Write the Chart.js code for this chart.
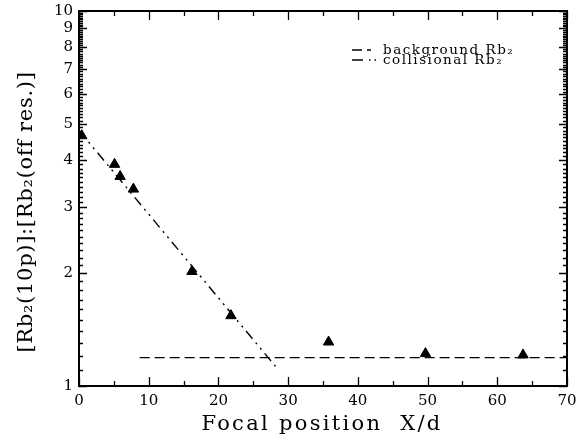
<!DOCTYPE html>
<html>
<head>
<meta charset="utf-8">
<script src="https://cdn.jsdelivr.net/npm/chart.js@4.4.1/dist/chart.umd.min.js"></script>
<style>
  html, body { margin: 0; padding: 0; background: #fff; }
</style>
</head>
<body>
<canvas id="chart" width="577" height="439"></canvas>
<script>
// measured points (triangles)
const focalX = [0.4, 5.1, 5.9, 7.8, 16.2, 21.8, 35.8, 49.7, 63.7];
const ratioY = [4.65, 3.9, 3.62, 3.35, 2.02, 1.54, 1.31, 1.22, 1.21];

// fitted lines
const backgroundX = [8.7, 70];
const backgroundY = [1.19, 1.19];
const collisionalX = [0, 28.5];
const collisionalY = [4.8, 1.11];

// axis ticks
const xTicks = [0, 10, 20, 30, 40, 50, 60, 70];
const xMinor = [5, 15, 25, 35, 45, 55, 65];
const yTicks = [1, 2, 3, 4, 5, 6, 7, 8, 9, 10];
const yMinor = [];
for (let d = 1; d < 10; d++) {
  for (let k = 1; k < 10; k++) yMinor.push(d + k / 10);
}

const legendItems = ['background Rb\u2082', 'collisional Rb\u2082'];
const xTitle = 'Focal position  X/d';
const yTitle = '[Rb\u2082(10p)]:[Rb\u2082(off res.)]';

const serif = 'DejaVu Serif';

function toPoints(xs, ys) {
  return xs.map((x, i) => ({ x: x, y: ys[i] }));
}

// frame, inward ticks, axis titles and the legend
const frameTicks = {
  id: 'frameTicks',
  afterDatasetsDraw(chart) {
    const ctx = chart.ctx;
    const a = chart.chartArea;
    const x = chart.scales.x;
    const y = chart.scales.y;
    ctx.save();
    ctx.strokeStyle = '#000';
    ctx.lineWidth = 1.3;
    ctx.setLineDash([]);
    ctx.beginPath();
    xTicks.forEach(v => {
      const px = Math.round(x.getPixelForValue(v)) + 0.5;
      ctx.moveTo(px, a.bottom); ctx.lineTo(px, a.bottom - 9);
      ctx.moveTo(px, a.top); ctx.lineTo(px, a.top + 9);
    });
    xMinor.forEach(v => {
      const px = Math.round(x.getPixelForValue(v)) + 0.5;
      ctx.moveTo(px, a.bottom); ctx.lineTo(px, a.bottom - 5);
      ctx.moveTo(px, a.top); ctx.lineTo(px, a.top + 5);
    });
    yTicks.forEach(v => {
      const py = Math.round(y.getPixelForValue(v)) + 0.5;
      ctx.moveTo(a.left, py); ctx.lineTo(a.left + 8, py);
      ctx.moveTo(a.right, py); ctx.lineTo(a.right - 8, py);
    });
    yMinor.forEach(v => {
      const py = Math.round(y.getPixelForValue(v)) + 0.5;
      ctx.moveTo(a.left, py); ctx.lineTo(a.left + 4, py);
      ctx.moveTo(a.right, py); ctx.lineTo(a.right - 4, py);
    });
    ctx.stroke();

    ctx.lineWidth = 2;
    ctx.strokeRect(a.left, a.top, a.right - a.left, a.bottom - a.top);

    // legend
    const lx = 352;
    const ly = a.top + 39;
    ctx.lineWidth = 1.4;
    ctx.beginPath();
    ctx.setLineDash([10, 5, 4, 100]);
    ctx.moveTo(lx, ly); ctx.lineTo(lx + 20, ly);
    ctx.stroke();
    ctx.beginPath();
    ctx.setLineDash([11, 6, 1.5, 4, 1.5, 100]);
    ctx.moveTo(lx, ly + 10); ctx.lineTo(lx + 26, ly + 10);
    ctx.stroke();
    ctx.setLineDash([]);
    ctx.fillStyle = '#000';
    ctx.font = '13.5px "' + serif + '"';
    ctx.letterSpacing = '1.5px';
    ctx.textBaseline = 'middle';
    legendItems.forEach((t, i) => {
      ctx.fillText(t, lx + 31, ly + i * 10);
    });

    // axis titles
    ctx.font = '21px "' + serif + '"';
    ctx.textAlign = 'center';
    ctx.letterSpacing = '2.3px';
    ctx.fillText(xTitle, 322, 425);
    ctx.letterSpacing = '0.7px';
    ctx.translate(27, 212);
    ctx.rotate(-Math.PI / 2);
    ctx.fillText(yTitle, 0, 0);
    ctx.restore();
  }
};

const ctx = document.getElementById('chart').getContext('2d');
const chart = new Chart(ctx, {
  type: 'scatter',
  data: {
    datasets: [
      {
        label: 'collisional Rb2',
        data: toPoints(collisionalX, collisionalY),
        showLine: true,
        borderColor: '#000',
        borderWidth: 1.4,
        borderDash: [10, 5, 2, 5, 2, 5],
        pointRadius: 0
      },
      {
        label: 'background Rb2',
        data: toPoints(backgroundX, backgroundY),
        showLine: true,
        borderColor: '#000',
        borderWidth: 1.4,
        borderDash: [10, 5],
        pointRadius: 0
      },
      {
        label: 'data',
        data: toPoints(focalX, ratioY),
        showLine: false,
        pointStyle: 'triangle',
        pointRadius: 6,
        backgroundColor: '#000',
        borderColor: '#000',
        borderWidth: 1
      }
    ]
  },
  options: {
    responsive: false,
    animation: false,
    devicePixelRatio: 1,
    layout: { padding: { top: 11, right: 10, left: 0, bottom: 0 } },
    plugins: {
      legend: { display: false },
      tooltip: { enabled: false }
    },
    scales: {
      x: {
        type: 'linear',
        min: 0,
        max: 70,
        afterBuildTicks: s => { s.ticks = xTicks.map(v => ({ value: v })); },
        afterFit: s => { s.height = 53; s.paddingLeft = 0; s.paddingRight = 0; },
        grid: { display: false, drawTicks: false },
        border: { display: false },
        ticks: { color: '#000', padding: 6, font: { family: serif, size: 15 } }
      },
      y: {
        type: 'logarithmic',
        min: 1,
        max: 10,
        afterBuildTicks: s => { s.ticks = yTicks.map(v => ({ value: v })); },
        afterFit: s => { s.width = 79; s.paddingTop = 0; s.paddingBottom = 0; },
        grid: { display: false, drawTicks: false },
        border: { display: false },
        ticks: {
          color: '#000',
          padding: 6,
          autoSkip: false,
          font: { family: serif, size: 15 },
          callback: v => String(v)
        }
      }
    }
  },
  plugins: [frameTicks]
});
</script>
</body>
</html>
